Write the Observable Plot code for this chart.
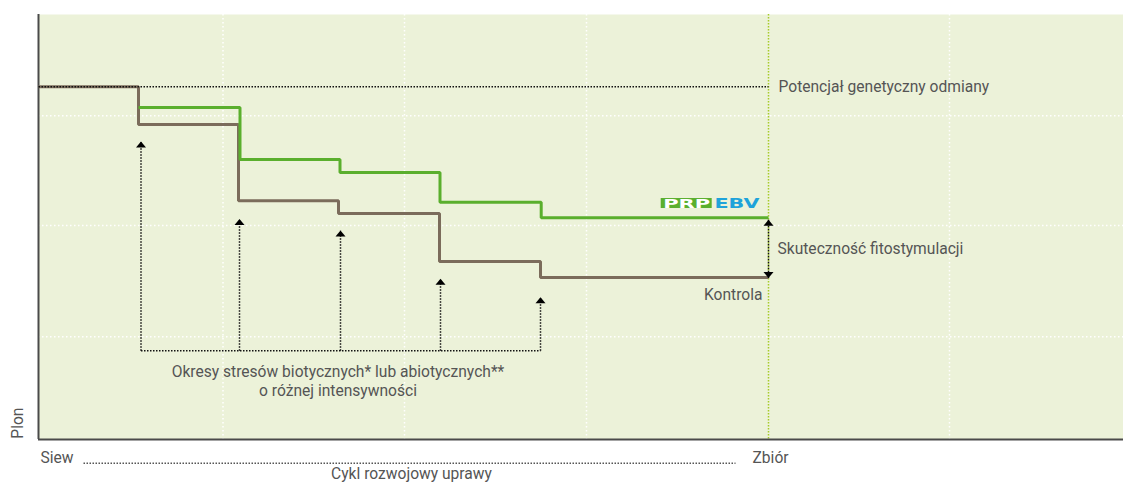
<!DOCTYPE html>
<html>
<head>
<meta charset="utf-8">
<script src="https://cdn.jsdelivr.net/npm/d3@7"></script>
<script src="https://cdn.jsdelivr.net/npm/@observablehq/plot@0.6"></script>
<style>
  html, body { margin: 0; padding: 0; background: #fff; }
  #chart svg { display: block; }
</style>
</head>
<body>
<div id="chart"></div>
<script>
// ---- data (schematic units: x = crop cycle, y = yield, 0..100) ----
const kontrolaX = [0, 10, 20, 30, 40.1, 50.2, 73];
const kontrolaY = [83, 74.1, 56.2, 53.2, 41.9, 38.1, 38.1];
const prpX = [10, 20.15, 30.15, 40.15, 50.27, 73];
const prpY = [78.1, 65.9, 62.8, 55.8, 52.2, 52.2];
const potencjalY = 83;
const zbiorX = 73;
const stressX = [10.25, 20.1, 30.2, 40.2, 50.2];
const stressTip = [70.1, 51.9, 49.2, 37.8, 33.5];
const stressBase = 20.9;
const effectTop = 51.7, effectBottom = 38.0;
const gridX = [18.45, 36.6, 54.8, 91.1];
const gridY = [24.2, 50.35, 76.2];
const logoBox = [{x1: 62.27, x2: 67.37, y1: 54.35, y2: 56.7}];
const logoY = 55.5;
const axisBottomY = -5.6;
const labelsBelowY = -4.35;

const kontrola = kontrolaX.map((x, i) => ({x, y: kontrolaY[i]}));
const prp = prpX.map((x, i) => ({x, y: prpY[i]}));
const stress = stressX.map((x, i) => ({x, tip: stressTip[i]}));

const textColor = "#555";
const green = "#5aaf2d";
const brown = "#7b6c5b";
const fs = 15.6;

const arrowUp = {draw(ctx) { ctx.moveTo(0, 0); ctx.lineTo(5, 6); ctx.lineTo(-5, 6); ctx.closePath(); }};
const arrowDown = {draw(ctx) { ctx.moveTo(0, 0); ctx.lineTo(5, -6); ctx.lineTo(-5, -6); ctx.closePath(); }};

const dotted = {stroke: "#111", strokeWidth: 1.5, strokeDasharray: "1.5,1.5"};

const chart = Plot.plot({
  width: 1123,
  height: 484,
  marginLeft: 38,
  marginRight: 0,
  marginTop: 14,
  marginBottom: 45,
  x: {domain: [0, 108.5], axis: null},
  y: {domain: [0, 100], axis: null},
  style: {fontFamily: "Roboto, sans-serif", background: "#fff", overflow: "visible"},
  marks: [
    Plot.frame({fill: "#ecf2d9", stroke: null}),
    Plot.ruleX(gridX, {stroke: "#fff", strokeWidth: 1.5, strokeDasharray: "1.5,2.5"}),
    Plot.ruleY(gridY, {stroke: "#fff", strokeWidth: 1.5, strokeDasharray: "1.5,2.5"}),
    Plot.ruleX([zbiorX], {stroke: "#a6cb2a", strokeWidth: 1.5, strokeDasharray: "1.5,1.5"}),
    // axes lines
    Plot.ruleX([0], {stroke: "#4a4a4a", strokeWidth: 2}),
    Plot.ruleY([0], {stroke: "#4a4a4a", strokeWidth: 2}),
    // stress arrows
    Plot.link(stress, {x1: "x", x2: "x", y1: () => stressBase, y2: "tip", ...dotted}),
    Plot.link([stress], {x1: d => d[0].x, x2: d => d[d.length - 1].x, y1: () => stressBase, y2: () => stressBase, ...dotted}),
    Plot.dot(stress, {x: "x", y: "tip", symbol: arrowUp, fill: "#000", stroke: null}),
    // lines
    Plot.line(kontrola, {x: "x", y: "y", curve: "step-after", stroke: brown, strokeWidth: 3, strokeLinejoin: "miter", strokeLinecap: "butt"}),
    Plot.line(prp, {x: "x", y: "y", curve: "step-after", stroke: green, strokeWidth: 3, strokeLinejoin: "miter", strokeLinecap: "butt"}),
    Plot.link([potencjalY], {x1: 0, x2: zbiorX, y1: d => d, y2: d => d, ...dotted}),
    // effectiveness arrow
    Plot.link([{a: effectTop, b: effectBottom}], {x1: zbiorX, x2: zbiorX, y1: "a", y2: "b", ...dotted}),
    Plot.dot([effectTop], {x: zbiorX, y: d => d, symbol: arrowUp, fill: "#000", stroke: null}),
    Plot.dot([effectBottom], {x: zbiorX, y: d => d, symbol: arrowDown, fill: "#000", stroke: null}),
    // logo
    Plot.rect(logoBox, {x1: "x1", x2: "x2", y1: "y1", y2: "y2", fill: green}),
    Plot.text(["PRP"], {x: (logoBox[0].x1 + logoBox[0].x2) / 2, y: logoY, text: d => d, fill: "#fff", fontSize: 13, fontWeight: "bold", fontFamily: "DejaVu Sans"}),
    Plot.text(["EBV"], {x: 69.85, y: logoY, text: d => d, fill: "#1ea3da", fontSize: 13.5, fontWeight: "bold", fontFamily: "DejaVu Sans"}),
    // labels
    Plot.text(["Potencjał genetyczny odmiany"], {x: zbiorX, y: potencjalY, dx: 10, text: d => d, textAnchor: "start", fontSize: fs, fill: textColor}),
    Plot.text(["Skuteczność fitostymulacji"], {x: zbiorX, y: (effectTop + effectBottom) / 2, dx: 9, text: d => d, textAnchor: "start", fontSize: fs, fill: textColor}),
    Plot.text(["Kontrola"], {x: zbiorX, y: effectBottom, dx: -6, dy: 17, text: d => d, textAnchor: "end", fontSize: fs, fill: textColor}),
    Plot.text(["Okresy stresów biotycznych* lub abiotycznych**\no różnej intensywności"], {x: 29.95, y: 14, text: d => d, fontSize: fs, lineHeight: 1.22, fill: textColor}),
    // below axis
    Plot.text(["Siew"], {x: 0.2, y: labelsBelowY, text: d => d, textAnchor: "start", fontSize: fs, fill: textColor}),
    Plot.text(["Zbiór"], {x: 71.4, y: labelsBelowY, text: d => d, textAnchor: "start", fontSize: fs, fill: textColor}),
    Plot.link([axisBottomY], {x1: 4.5, x2: 69.7, y1: d => d, y2: d => d, stroke: "#555", strokeWidth: 1.5, strokeDasharray: "1.5,1.5"}),
    Plot.text(["Cykl rozwojowy uprawy"], {x: 37.3, y: -8.1, text: d => d, fontSize: fs, fill: textColor}),
    Plot.text(["Plon"], {x: -2.1, y: 0.2, text: d => d, rotate: -90, textAnchor: "start", fontSize: fs, fill: textColor})
  ]
});

document.getElementById("chart").appendChild(chart);
const svgText = d3.select(chart).selectAll("text");
svgText.filter(function() { return this.textContent === "PRP"; })
  .attr("textLength", 47).attr("lengthAdjust", "spacingAndGlyphs");
svgText.filter(function() { return this.textContent === "EBV"; })
  .attr("textLength", 45).attr("lengthAdjust", "spacingAndGlyphs");
</script>
</body>
</html>
